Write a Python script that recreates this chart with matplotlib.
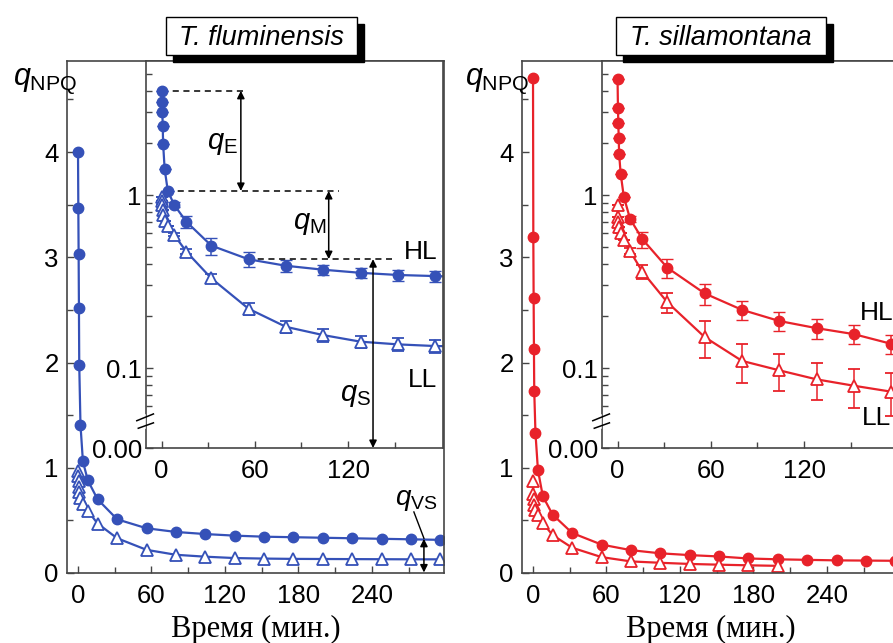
import numpy as np
import matplotlib
matplotlib.use('Agg')
import matplotlib.pyplot as plt
from matplotlib.patches import Rectangle
from matplotlib.ticker import FixedLocator, NullFormatter

plt.rcParams['font.family'] = ['Liberation Sans', 'DejaVu Sans']
plt.rcParams['mathtext.fontset'] = 'custom'
plt.rcParams['mathtext.rm'] = 'Liberation Sans'
plt.rcParams['mathtext.it'] = 'Liberation Sans:italic'

BLUE = '#3551b8'
RED = '#e8222a'
AXC = '#454545'

# times, min
t_hl = [0, 0.25, 0.5, 0.75, 1, 2, 4, 8, 16, 32, 56, 80, 104, 128, 152, 176, 200, 224, 248, 272, 296]

# T. fluminensis
fl_hl = [4.0, 3.47, 3.03, 2.52, 1.98, 1.41, 1.06, 0.88, 0.70, 0.51, 0.425, 0.39, 0.37, 0.355,
         0.345, 0.34, 0.335, 0.33, 0.325, 0.32, 0.315]
fl_hl_err = [0, 0, 0, 0, 0, 0, 0, 0.03, 0.058, 0.057, 0.041, 0.03, 0.025, 0.025, 0.025, 0.025,
             0.02, 0.02, 0.02, 0.02, 0.02]
fl_ll = [0.97, 0.92, 0.87, 0.82, 0.77, 0.71, 0.66, 0.59, 0.47, 0.33, 0.22, 0.173, 0.155, 0.142,
         0.137, 0.134, 0.133, 0.132, 0.131, 0.13, 0.13]
fl_ll_err = [0, 0, 0, 0, 0, 0, 0, 0.01, 0.015, 0.02, 0.018, 0.014, 0.013, 0.012, 0.012, 0.012,
             0.01, 0.01, 0.01, 0.01, 0.01]

# T. sillamontana
si_hl = [4.70, 3.19, 2.61, 2.13, 1.73, 1.33, 0.98, 0.73, 0.555, 0.38, 0.27, 0.217, 0.187, 0.17,
         0.157, 0.138, 0.13, 0.125, 0.12, 0.118, 0.116]
si_hl_err = [0, 0, 0, 0, 0, 0, 0, 0.03, 0.06, 0.048, 0.038, 0.028, 0.023, 0.022, 0.02, 0.017,
             0.015, 0.015, 0.015, 0.015, 0.015]
t_si_ll = [0, 0.25, 0.5, 1, 2, 4, 8, 16, 32, 56, 80, 104, 128, 152, 176, 200]
si_ll = [0.875, 0.75, 0.70, 0.65, 0.60, 0.55, 0.475, 0.36, 0.24, 0.151, 0.11, 0.097, 0.086,
         0.079, 0.073, 0.068]
si_ll_err = [0, 0, 0, 0, 0, 0, 0.02, 0.035, 0.032, 0.036, 0.028, 0.023, 0.021, 0.02, 0.02, 0.02]

main_xticks = [0, 60, 120, 180, 240]
main_xminor = [30, 90, 150, 210, 270]
main_yticks = [0, 1, 2, 3, 4]
main_yminor = [0.5, 1.5, 2.5, 3.5, 4.5]
ins_xticks = [0, 60, 120]
ins_xminor = [30, 90, 150]
ins_ymin = 0.0345
ins_yticks = [ins_ymin, 0.1, 1]
ins_ylabels = ['0.00', '0.1', '1']
ins_yminor = [0.06, 0.07, 0.08, 0.09, 0.2, 0.3, 0.4, 0.5, 0.6, 0.7, 0.8, 0.9, 2, 3, 4, 5]

W, H = 893, 643
fig = plt.figure(figsize=(W / 100, H / 100), dpi=100)


def px_axes(x0, x1, y0, y1):
    return fig.add_axes([x0 / W, 1 - y1 / H, (x1 - x0) / W, (y1 - y0) / H])


def style(ax):
    for s in ax.spines.values():
        s.set_color(AXC)
        s.set_linewidth(1.2)
    ax.tick_params(which='both', direction='in', top=False, right=False, color=AXC,
                   width=1, labelsize=18.5)
    ax.tick_params(which='major', length=5)
    ax.tick_params(which='minor', length=4)


def main_panel(x0, col, hl, ll_t, ll, label_x):
    ax = px_axes(x0, x0 + 377, 61, 573)
    style(ax)
    ax.plot(t_hl, hl, '-o', color=col, ms=7.5, lw=1.6)
    ax.plot(ll_t, ll, '-^', color=col, ms=8, lw=1.6, mfc='white', mew=1.3)
    ax.set_xlim(-9, 299)
    ax.set_ylim(0, 4.865)
    ax.set_xticks(main_xticks)
    ax.set_xticks(main_xminor, minor=True)
    ax.set_yticks(main_yticks)
    ax.set_yticks(main_yminor, minor=True)
    ax.tick_params(axis='x', pad=8)
    ax.tick_params(axis='y', pad=6)
    ax.set_xlabel('Время (мин.)', family=['Liberation Serif', 'DejaVu Serif'], fontsize=22,
                  labelpad=5)
    ax.text(label_x, 0.953, r'$q_{\rm NPQ}$', transform=ax.transAxes, fontsize=22,
            ha='left', va='baseline')
    return ax


def inset_panel(x0, col, hl, hl_err, ll_t, ll, ll_err):
    ax = px_axes(x0, x0 + 297, 61, 448)
    style(ax)
    ax.set_yscale('log')
    ax.errorbar(t_hl, hl, yerr=hl_err, fmt='-o', color=col, ms=7.5, lw=1.6, elinewidth=1.1,
                capsize=4.5)
    ax.errorbar(ll_t, ll, yerr=ll_err, fmt='-^', color=col, ms=8, lw=1.6, mfc='white',
                mew=1.3, elinewidth=1.1, capsize=4.5)
    ax.set_xlim(-10, 181)
    ax.set_ylim(ins_ymin, 5.95)
    ax.set_xticks(ins_xticks)
    ax.set_xticks(ins_xminor, minor=True)
    ax.yaxis.set_major_locator(FixedLocator(ins_yticks))
    ax.set_yticklabels(ins_ylabels)
    ax.yaxis.set_minor_locator(FixedLocator(ins_yminor))
    ax.yaxis.set_minor_formatter(NullFormatter())
    ax.tick_params(axis='x', pad=8)
    ax.tick_params(axis='y', pad=3)
    # axis break
    ax.plot([-0.01, -0.01], [0.056, 0.08], color='white', lw=4, transform=ax.transAxes,
            clip_on=False, zorder=5)
    ax.plot([-0.031, 0.025], [0.0705, 0.088], color='black', lw=1.1, transform=ax.transAxes,
            clip_on=False, zorder=6)
    ax.plot([-0.026, 0.025], [0.051, 0.065], color='black', lw=1.1, transform=ax.transAxes,
            clip_on=False, zorder=6)
    return ax


def title_box(x0, x1, text):
    fig.add_artist(Rectangle((x0 / W + 7 / W, 1 - 62 / H), (x1 - x0) / W, 38 / H,
                             transform=fig.transFigure, fc='black', ec='black', zorder=10))
    fig.add_artist(Rectangle((x0 / W, 1 - 55 / H), (x1 - x0) / W, 38 / H,
                             transform=fig.transFigure, fc='white', ec='black', lw=1,
                             zorder=11))
    fig.text((x0 + x1) / 2 / W, 1 - 45 / H, text, style='italic', fontsize=19.5, ha='center',
             va='baseline', zorder=12)


arrow = dict(arrowstyle='<|-|>', color='black', lw=1.1, mutation_scale=11,
             shrinkA=0, shrinkB=0)
dash = (0, (4, 3))

# T. fluminensis
axL = main_panel(67, BLUE, fl_hl, t_hl, fl_ll, -0.144)
axL.annotate('', xy=(282.6, 0.005), xytext=(282.6, 0.325), arrowprops=arrow)
axL.plot([274.4, 282.6], [0.58, 0.33], color='black', lw=1)
axL.text(276, 0.69, r'$q_{\rm VS}$', fontsize=20, ha='center', va='center')

insL = inset_panel(146, BLUE, fl_hl, fl_hl_err, t_hl, fl_ll, fl_ll_err)
insL.plot([0, 55], [4.0, 4.0], color='black', lw=1.1, ls=dash)
insL.plot([3.4, 114], [1.055, 1.055], color='black', lw=1.1, ls=dash)
insL.plot([55, 148], [0.426, 0.426], color='black', lw=1.1, ls=dash)
insL.annotate('', xy=(51, 1.055), xytext=(51, 4.0), arrowprops=arrow)
insL.annotate('', xy=(107.5, 0.426), xytext=(107.5, 1.055), arrowprops=arrow)
insL.annotate('', xy=(136, ins_ymin), xytext=(136, 0.426), arrowprops=arrow)
insL.text(39, 2.0, r'$q_{\rm E}$', fontsize=21, ha='center', va='center')
insL.text(95, 0.69, r'$q_{\rm M}$', fontsize=21, ha='center', va='center')
insL.text(125, 0.0697, r'$q_{\rm S}$', fontsize=21, ha='center', va='center')
insL.text(166.6, 0.468, 'HL', fontsize=19, ha='center', va='center')
insL.text(168, 0.085, 'LL', fontsize=19, ha='center', va='center')
title_box(166, 357, 'T. fluminensis')

# T. sillamontana
axR = main_panel(522, RED, si_hl, t_si_ll, si_ll, -0.151)
insR = inset_panel(602, RED, si_hl, si_hl_err, t_si_ll, si_ll, si_ll_err)
insR.text(166.6, 0.208, 'HL', fontsize=19, ha='center', va='center')
insR.text(166.6, 0.0513, 'LL', fontsize=19, ha='center', va='center')
title_box(616, 826, 'T. sillamontana')

fig.savefig('out.png', dpi=100)
